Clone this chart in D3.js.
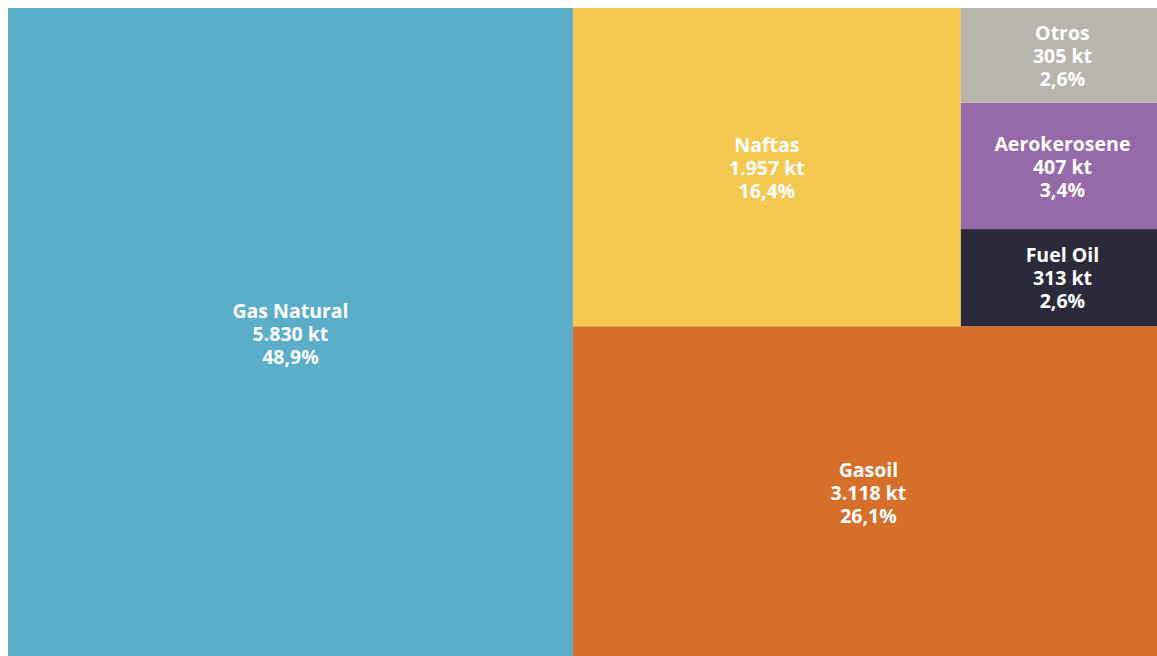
<!DOCTYPE html>
<html>
<head>
<meta charset="utf-8">
<script src="https://cdn.jsdelivr.net/npm/d3@7"></script>
<style>
  html, body { margin: 0; padding: 0; background: #ffffff; overflow: hidden; }
  svg { display: block; }
  text { font-family: "Open Sans", "Noto Sans", sans-serif; font-weight: 700; fill: #ffffff; }
</style>
</head>
<body>
<svg id="chart" width="1157" height="656"></svg>
<script>
// Consumo por combustible (kt), in tiling order
const categories = ["Gas Natural", "Gasoil", "Naftas", "Fuel Oil", "Aerokerosene", "Otros"];
const values = [5830, 3118, 1957, 313, 407, 305];
const colors = ["#5aaeca", "#d56f2a", "#f4c951", "#2b2a3c", "#9669a8", "#b8b5ae"];

const svg = d3.select("#chart");
const x0 = 8, y0 = 8, width = 1156, height = 651;

const locale = d3.formatLocale({ decimal: ",", thousands: ".", grouping: [3], currency: ["", ""] });
const fmtKt = locale.format(",d");
const fmtPct = locale.format(".1f");

// Ordered binary partition: split where the halves balance best, cut across the
// longer side; vertical cuts put the first group on the left, horizontal cuts
// put the first group at the bottom.
function orderedBinary(parent, x0, y0, x1, y1) {
  const nodes = parent.children;
  function part(i, j, value, x0, y0, x1, y1) {
    if (j - i === 1) {
      const n = nodes[i];
      n.x0 = x0; n.y0 = y0; n.x1 = x1; n.y1 = y1;
      return;
    }
    let best = i + 1, bestDiff = Infinity, acc = 0;
    for (let k = i; k < j - 1; k++) {
      acc += nodes[k].value;
      const d = Math.abs(2 * acc - value);
      if (d < bestDiff) { bestDiff = d; best = k + 1; }
    }
    let left = 0;
    for (let k = i; k < best; k++) left += nodes[k].value;
    const right = value - left;
    if (x1 - x0 > y1 - y0) {
      const xm = x0 + (x1 - x0) * left / value;
      part(i, best, left, x0, y0, xm, y1);
      part(best, j, right, xm, y0, x1, y1);
    } else {
      const ym = y1 - (y1 - y0) * left / value;
      part(i, best, left, x0, ym, x1, y1);
      part(best, j, right, x0, y0, x1, ym);
    }
  }
  part(0, nodes.length, parent.value, x0, y0, x1, y1);
}

const data = categories.map((c, i) => ({ name: c, value: values[i], color: colors[i] }));
const root = d3.hierarchy({ children: data }).sum(d => d.value || 0);
d3.treemap().tile(orderedBinary).size([width, height]).round(false)(root);
const total = root.value;

const g = svg.append("g").attr("transform", `translate(${x0},${y0})`);
const cell = g.selectAll("g.cell").data(root.leaves()).join("g").attr("class", "cell");

cell.append("rect")
  .attr("x", d => d.x0)
  .attr("y", d => d.y0)
  .attr("width", d => d.x1 - d.x0)
  .attr("height", d => d.y1 - d.y0)
  .attr("fill", d => d.data.color);

const lineH = 23;
cell.each(function (d) {
  const cx = (d.x0 + d.x1) / 2;
  const cy = (d.y0 + d.y1) / 2 + 1;
  const lines = [d.data.name, fmtKt(d.data.value) + " kt", fmtPct(d.data.value / total * 100) + "%"];
  const t = d3.select(this).append("text")
    .attr("text-anchor", "middle")
    .attr("font-size", 19.5);
  lines.forEach((s, k) => {
    t.append("tspan")
      .attr("x", cx)
      .attr("y", cy + (k - 1) * lineH)
      .attr("dy", "0.35em")
      .text(s);
  });
});
</script>
</body>
</html>
